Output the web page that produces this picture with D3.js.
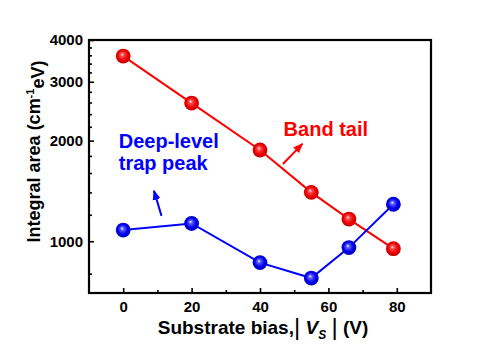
<!DOCTYPE html>
<html>
<head>
<meta charset="utf-8">
<script src="https://cdn.jsdelivr.net/npm/d3@7"></script>
<style>
  body { margin: 0; background: #fff; }
  svg text { font-family: Arial, 'Liberation Sans', sans-serif; font-weight: bold; }
</style>
</head>
<body>
<svg id="chart" width="500" height="351"></svg>
<script>
// data
const biasV = [0, 20, 40, 55, 66, 79];
const bandTail = [3580, 2590, 1875, 1400, 1165, 950];
const deepLevel = [1080, 1130, 863, 776, 957, 1290];

const xTicks = [0, 20, 40, 60, 80];
const xMinor = [10, 30, 50, 70];
const yTicks = [1000, 2000, 3000, 4000];
const yMinor = [800, 1200, 1400, 1600, 1800, 2200, 2400, 2600, 2800, 3200, 3400, 3600, 3800];

const svg = d3.select('#chart');

// plot box
const box = { left: 89, right: 431, top: 40, bottom: 293 };

const x = d3.scaleLinear().domain([-10, 90]).range([box.left, box.right]);
const y = d3.scaleLog().domain([700, 4000]).range([box.bottom, box.top]);

// sphere-look gradients
const defs = svg.append('defs');
const ball = (id, light, mid, dark) => {
  const g = defs.append('radialGradient').attr('id', id)
    .attr('cx', '50%').attr('cy', '50%').attr('r', '55%')
    .attr('fx', '42%').attr('fy', '38%');
  g.append('stop').attr('offset', '0%').attr('stop-color', '#fff');
  g.append('stop').attr('offset', '20%').attr('stop-color', light);
  g.append('stop').attr('offset', '60%').attr('stop-color', mid);
  g.append('stop').attr('offset', '100%').attr('stop-color', dark);
};
ball('gRed', '#ff5050', '#f00000', '#b80000');
ball('gBlue', '#6060ff', '#0000f0', '#0000b0');

// arrow heads
const head = (id, col) => {
  defs.append('marker').attr('id', id)
    .attr('viewBox', '0 0 10 10').attr('refX', 9).attr('refY', 5)
    .attr('markerWidth', 10).attr('markerHeight', 10)
    .attr('markerUnits', 'userSpaceOnUse')
    .attr('orient', 'auto')
    .append('path').attr('d', 'M0,1 L10,5 L0,9 Z').attr('fill', col);
};
head('hRed', '#f00');
head('hBlue', '#00f');

// axes (ticks point inward)
svg.append('g').attr('transform', `translate(${box.left},0)`)
  .call(d3.axisLeft(y).tickValues(yTicks).tickFormat(d3.format('d'))
    .tickSizeInner(-5).tickSizeOuter(0).tickPadding(6));
svg.append('g').attr('transform', `translate(${box.left},0)`)
  .call(d3.axisLeft(y).tickValues(yMinor).tickFormat('').tickSizeInner(-3).tickSizeOuter(0));

svg.append('g').attr('transform', `translate(0,${box.bottom})`)
  .call(d3.axisBottom(x).tickValues(xTicks).tickSizeInner(-5).tickSizeOuter(0).tickPadding(8));
svg.append('g').attr('transform', `translate(0,${box.bottom})`)
  .call(d3.axisBottom(x).tickValues(xMinor).tickFormat('').tickSizeInner(-3).tickSizeOuter(0));

svg.selectAll('.domain').remove();
svg.selectAll('.tick line').attr('stroke', '#000').attr('stroke-width', 1.6);
svg.selectAll('.tick text').attr('font-size', 15).attr('fill', '#000')
  .style('font-family', "Arial, 'Liberation Sans', sans-serif").style('font-weight', 'bold');

// frame
svg.append('rect')
  .attr('x', box.left).attr('y', box.top)
  .attr('width', box.right - box.left).attr('height', box.bottom - box.top)
  .attr('fill', 'none').attr('stroke', '#000').attr('stroke-width', 2.2);

// series
const series = [
  { vals: bandTail, col: '#f00', grad: 'url(#gRed)' },
  { vals: deepLevel, col: '#00f', grad: 'url(#gBlue)' }
];
const line = d3.line().x(d => x(d[0])).y(d => y(d[1]));

series.forEach(s => {
  const pts = biasV.map((v, i) => [v, s.vals[i]]);
  svg.append('path').datum(pts)
    .attr('d', line).attr('fill', 'none')
    .attr('stroke', s.col).attr('stroke-width', 2);
  svg.append('g').selectAll('circle').data(pts).enter().append('circle')
    .attr('cx', d => x(d[0])).attr('cy', d => y(d[1]))
    .attr('r', 7.4).attr('fill', s.grad);
});

// annotations (in data units)
const arrows = [
  { from: [46.7, 1703], to: [52.4, 1956], col: '#f00', head: 'url(#hRed)' },
  { from: [11.2, 1191], to: [9.0, 1416], col: '#00f', head: 'url(#hBlue)' }
];
arrows.forEach(a => {
  svg.append('line')
    .attr('x1', x(a.from[0])).attr('y1', y(a.from[1]))
    .attr('x2', x(a.to[0])).attr('y2', y(a.to[1]))
    .attr('stroke', a.col).attr('stroke-width', 2)
    .attr('marker-end', a.head);
});

const labels = [
  { t: 'Band tail', at: [46.9, 2067], col: '#f00' },
  { t: 'Deep-level', at: [-1.3, 1906], col: '#00f' },
  { t: 'trap peak', at: [-1.3, 1634], col: '#00f' }
];
svg.append('g').selectAll('text').data(labels).enter().append('text')
  .attr('x', d => x(d.at[0])).attr('y', d => y(d.at[1]))
  .attr('font-size', 20).attr('fill', d => d.col)
  .text(d => d.t);

// axis titles
const yt = svg.append('text')
  .attr('transform', 'translate(40,151.5) rotate(-90)')
  .attr('text-anchor', 'middle').attr('font-size', 18).attr('fill', '#000');
yt.append('tspan').text('Integral area (cm');
yt.append('tspan').attr('dy', '-0.55em').attr('font-size', 11).text('-1');
yt.append('tspan').attr('dy', '0.55em').text('eV)');

const xt = svg.append('text')
  .attr('x', 263).attr('y', 334)
  .attr('text-anchor', 'middle').attr('font-size', 19).attr('fill', '#000');
xt.append('tspan').text('Substrate bias,');
xt.append('tspan').attr('font-weight', 'normal').attr('font-size', 24).attr('dy', 1).text('|');
xt.append('tspan').attr('dy', -1).text(' ');
xt.append('tspan').attr('font-style', 'italic').text('V');
xt.append('tspan').attr('font-style', 'italic').attr('font-size', 12).attr('dy', 5).text('S');
xt.append('tspan').attr('dy', -5).text(' ');
xt.append('tspan').attr('font-weight', 'normal').attr('font-size', 24).attr('dy', 1).text('|');
xt.append('tspan').attr('dy', -1).text(' (V)');
</script>
</body>
</html>
